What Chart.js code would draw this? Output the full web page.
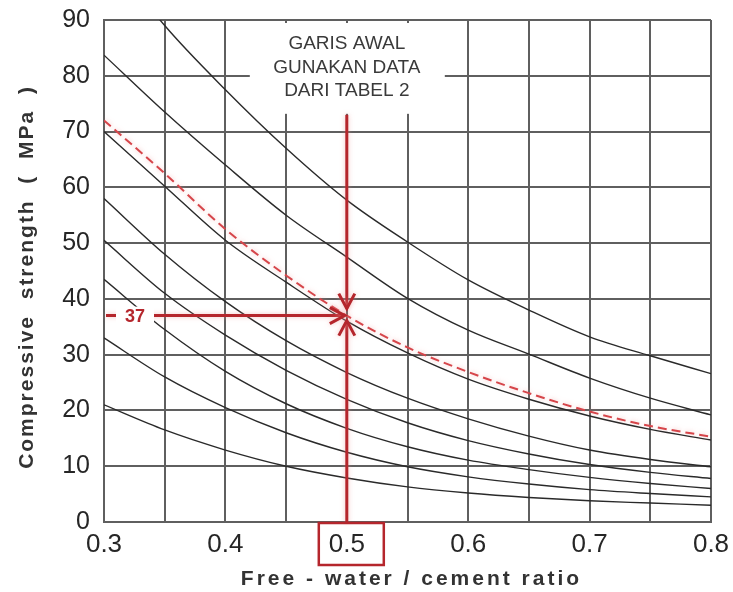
<!DOCTYPE html>
<html lang="id">
<head>
<meta charset="UTF-8">
<title>Compressive strength vs free-water / cement ratio</title>
<script src="https://cdn.jsdelivr.net/npm/chart.js@4.4.0/dist/chart.umd.min.js"></script>
<style>
  * { margin: 0; padding: 0; box-sizing: border-box; }
  body { background: #fff; width: 733px; height: 592px; overflow: hidden; }
  #wrap { position: relative; width: 733px; height: 592px; }
</style>
</head>
<body>
<div id="wrap"><canvas id="chart" width="733" height="592"></canvas></div>
<script>
// ── data ────────────────────────────────────────────────────────────────────
const ratios   = [0.30, 0.35, 0.40, 0.45, 0.50, 0.55, 0.60, 0.65, 0.70, 0.75, 0.80]
const curveA   = [103, 89, 77.5, 67, 57.7, 50.2, 43.4, 38, 33.2, 29.8, 26.6]
const curveB   = [83.7, 73.5, 64, 55, 47.5, 40.1, 34.4, 30.1, 25.8, 22.2, 19.2]
const curveRef = [72, 62.5, 52.5, 44.2, 37, 31.3, 26.9, 23.1, 19.8, 17.2, 15.3]   // red dashed
const curveC   = [70, 60.2, 50.5, 43, 36, 30.3, 25.6, 22, 19, 16.6, 14.7]
const curveD   = [58, 48, 39.5, 32.5, 26.8, 22.2, 18.5, 15.4, 12.9, 11.2, 9.9]
const curveE   = [50.5, 41, 33.5, 27.2, 22, 17.8, 14.6, 12.2, 10.3, 8.9, 7.8]
const curveF   = [43.5, 34.5, 27, 21.2, 16.8, 13.5, 11.1, 9.4, 8, 6.9, 6]
const curveG   = [33, 26, 20.5, 16, 12.5, 9.9, 8.1, 6.8, 5.8, 5.1, 4.5]
const curveH   = [21, 16.5, 12.9, 10, 7.9, 6.3, 5.2, 4.4, 3.8, 3.4, 3]

const TARGET_RATIO    = 0.5
const TARGET_STRENGTH = 37
const ARROW_START     = 73
const NOTE_LINES = ['GARIS AWAL', 'GUNAKAN DATA', 'DARI TABEL 2']
const X_TITLE = 'Free - water / cement ratio'
const Y_TITLE = 'Compressive  strength  (  MPa  )'

const FONT = "'Liberation Sans', Arial, sans-serif"
const GRID = '#5f5f5f'
const INK  = '#2a2a2a'
const RED  = '#b5262c'
const GLOW = 'rgba(235, 140, 140, 0.55)'

const pts = arr => ratios.map((r, i) => ({ x: r, y: arr[i] }))
const solid = arr => ({ data: pts(arr), borderColor: INK, borderWidth: 1.4, pointRadius: 0,
                        cubicInterpolationMode: 'monotone', fill: false })

function arrowHead(ctx, tx, ty, dx, dy) {
  const len = 15, half = 8
  const bx = tx - dx * len, by = ty - dy * len
  ctx.beginPath()
  ctx.moveTo(bx - dy * half, by + dx * half)
  ctx.lineTo(tx, ty)
  ctx.lineTo(bx + dy * half, by - dx * half)
  ctx.stroke()
}

const annot = {
  id: 'annot',
  beforeDatasetsDraw(chart) {
    const { ctx, chartArea, scales: { x, y } } = chart
    const cx = x.getPixelForValue(TARGET_RATIO)
    const yTop = y.getPixelForValue(ARROW_START)
    ctx.save()
    ctx.fillStyle = '#fff'
    ctx.fillRect(cx - 97, chartArea.top + 3, 195, yTop - chartArea.top - 4)
    ctx.fillStyle = '#3a3a3a'
    ctx.font = `19px ${FONT}`
    ctx.textAlign = 'center'
    ctx.textBaseline = 'middle'
    NOTE_LINES.forEach((t, i) => ctx.fillText(t, cx, chartArea.top + 24 + i * 23.5))
    ctx.restore()
  },
  // soft pink halo round the dashed reference curve
  beforeDatasetDraw(chart, args) {
    if (args.index !== 8) return
    chart.ctx.save()
    chart.ctx.shadowColor = GLOW
    chart.ctx.shadowBlur = 5
  },
  afterDatasetDraw(chart, args) {
    if (args.index === 8) chart.ctx.restore()
  },
  afterDatasetsDraw(chart) {
    const { ctx, chartArea, scales: { x, y } } = chart
    const cx = x.getPixelForValue(TARGET_RATIO)
    const cy = y.getPixelForValue(TARGET_STRENGTH)
    const x0 = x.getPixelForValue(ratios[0])
    ctx.save()
    ctx.strokeStyle = RED
    ctx.lineWidth = 3
    ctx.shadowColor = GLOW
    ctx.shadowBlur = 5
    // top vertical with down arrow
    ctx.beginPath(); ctx.moveTo(cx, y.getPixelForValue(ARROW_START)); ctx.lineTo(cx, cy - 7); ctx.stroke()
    arrowHead(ctx, cx, cy - 7, 0, 1)
    // horizontal with right arrow
    ctx.beginPath(); ctx.moveTo(x0 + 2, cy); ctx.lineTo(cx - 2, cy); ctx.stroke()
    arrowHead(ctx, cx - 2, cy, 1, 0)
    // bottom vertical with up arrow
    ctx.beginPath(); ctx.moveTo(cx, chartArea.bottom + 1); ctx.lineTo(cx, cy + 5); ctx.stroke()
    arrowHead(ctx, cx, cy + 5, 0, -1)
    ctx.shadowBlur = 0
    // "37" label
    ctx.fillStyle = '#fff'
    ctx.fillRect(x0 + 12, cy - 9, 38, 18)
    ctx.fillStyle = RED
    ctx.font = `bold 18px ${FONT}`
    ctx.textAlign = 'center'
    ctx.textBaseline = 'middle'
    ctx.fillText(String(TARGET_STRENGTH), x0 + 31, cy + 1)
    // box round the 0.5 tick label
    ctx.lineWidth = 2.5
    ctx.strokeRect(cx - 28, chartArea.bottom + 1, 65, 42)
    ctx.restore()
  },
  afterDraw(chart) {
    const { ctx, chartArea } = chart
    ctx.save()
    ctx.fillStyle = '#333'
    ctx.font = `bold 21px ${FONT}`
    ctx.textAlign = 'center'
    ctx.textBaseline = 'middle'
    ctx.letterSpacing = '3px'
    ctx.fillText(X_TITLE, (chartArea.left + chartArea.right) / 2 + 4, 579)
    ctx.letterSpacing = '2px'
    ctx.translate(27, 277)
    ctx.rotate(-Math.PI / 2)
    ctx.fillText(Y_TITLE, 0, 0)
    ctx.restore()
  }
}

new Chart(document.getElementById('chart'), {
  type: 'line',
  data: {
    datasets: [
      solid(curveA), solid(curveB), solid(curveC), solid(curveD),
      solid(curveE), solid(curveF), solid(curveG), solid(curveH),
      { data: pts(curveRef), borderColor: '#d6454a', borderWidth: 2, borderDash: [9, 5],
        pointRadius: 0, cubicInterpolationMode: 'monotone', fill: false },
    ]
  },
  options: {
    responsive: false,
    animation: false,
    layout: { padding: { top: 20, right: 22, left: 0, bottom: 0 } },
    plugins: { legend: { display: false }, tooltip: { enabled: false } },
    scales: {
      x: {
        type: 'linear', min: 0.3, max: 0.8,
        afterFit: s => { s.height = 70; s.paddingLeft = 0; s.paddingRight = 0 },
        grid: { color: GRID, lineWidth: 2, drawTicks: false },
        border: { color: GRID, width: 2 },
        ticks: { stepSize: 0.05, padding: 7, color: '#262626', font: { family: FONT, size: 26 },
                 maxRotation: 0, autoSkip: false,
                 callback: v => Math.round(v * 100) % 10 === 0 ? v.toFixed(1) : '' }
      },
      y: {
        min: 0, max: 90,
        afterFit: s => { s.width = 104; s.paddingTop = 0; s.paddingBottom = 0 },
        grid: { color: GRID, lineWidth: 2, drawTicks: false },
        border: { color: GRID, width: 2 },
        ticks: { stepSize: 10, padding: 14, color: '#262626', font: { family: FONT, size: 25 } }
      }
    }
  },
  plugins: [annot]
})
</script>
</body>
</html>
